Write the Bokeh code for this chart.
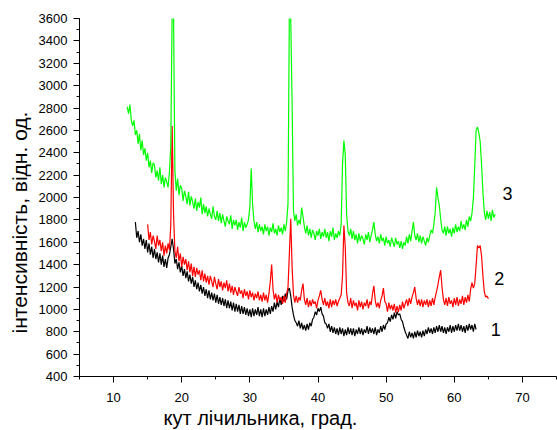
import numpy as np
from bokeh.plotting import figure
from bokeh.models import Range1d, SingleIntervalTicker, Label, ColumnDataSource, Title
from bokeh.embed import file_html
from bokeh.resources import INLINE

# ---- data ----
step = 0.2

green_x0 = 12.0
green_y = [
    2810, 2750, 2830, 2690, 2640,
    2690, 2560, 2600, 2480, 2570,
    2420, 2510, 2380, 2440, 2330,
    2400, 2270, 2330, 2220, 2310,
    2290, 2180, 2240, 2150, 2270,
    2120, 2200, 2090, 2180, 2140,
    2090, 2230, 2470, 3700, 3650,
    2240, 2060, 2170, 2020, 2110,
    2080, 1970, 2060, 2010, 1940,
    2050, 1930, 2010, 1960, 1900,
    1990, 1880, 1960, 1910, 2000,
    1850, 1940, 1860, 1920, 1830,
    1900, 1850, 1810, 1920, 1830,
    1800, 1880, 1790, 1860, 1770,
    1850, 1790, 1740, 1830, 1790,
    1760, 1840, 1720, 1800, 1750,
    1800, 1710, 1780, 1730, 1820,
    1700, 1780, 1730, 1760, 1800,
    1920, 2260, 1940, 1790, 1720,
    1780, 1690, 1760, 1700, 1740,
    1670, 1760, 1700, 1740, 1660,
    1730, 1690, 1770, 1680, 1720,
    1660, 1750, 1690, 1730, 1670,
    1760, 1700, 1780, 1950, 3700,
    3600, 2850, 1880, 1790, 1850,
    1750, 1800, 1760, 1910, 1830,
    1740, 1680, 1750, 1660, 1720,
    1640, 1710, 1680, 1620, 1700,
    1660, 1720, 1630, 1690, 1650,
    1720, 1640, 1690, 1610, 1700,
    1650, 1730, 1620, 1680, 1640,
    1700, 1660, 1760, 2300, 2510,
    2380, 1850, 1700, 1660, 1720,
    1630, 1700, 1620, 1670, 1590,
    1680, 1610, 1660, 1630, 1580,
    1670, 1620, 1690, 1600, 1660,
    1710, 1780, 1670, 1610, 1650,
    1590, 1670, 1610, 1640, 1570,
    1650, 1590, 1620, 1560, 1640,
    1600, 1560, 1640, 1580, 1610,
    1550, 1610, 1540, 1600, 1570,
    1650, 1590, 1670, 1610, 1700,
    1780, 1660, 1620, 1680, 1600,
    1660, 1590, 1650, 1610, 1570,
    1640, 1600, 1660, 1710, 1680,
    1760, 1870, 2090, 2000, 1930,
    1810, 1710, 1680, 1740, 1660,
    1740, 1680, 1720, 1650, 1730,
    1680, 1760, 1690, 1740, 1700,
    1790, 1720, 1760, 1710, 1800,
    1740, 1830, 1790, 1860, 1990,
    2280, 2600, 2630, 2580, 2500,
    2300, 2050, 1870, 1800, 1880,
    1810, 1870, 1790, 1890, 1820,
    1850,
]

red_x0 = 15.0
red_y = [
    1760, 1620, 1690, 1580, 1660,
    1610, 1540, 1660, 1570, 1620,
    1520, 1600, 1480, 1570, 1500,
    1590, 1530, 1760, 2640, 1850,
    1520, 1460, 1560, 1430, 1500,
    1380, 1470, 1400, 1450, 1350,
    1430, 1330, 1410, 1300, 1380,
    1290, 1370, 1310, 1350, 1260,
    1350, 1250, 1320, 1240, 1300,
    1220, 1300, 1250, 1200, 1290,
    1230, 1180, 1270, 1200, 1250,
    1170, 1240, 1190, 1260, 1160,
    1230, 1150, 1210, 1130, 1200,
    1160, 1120, 1200, 1140, 1170,
    1100, 1180, 1120, 1160, 1090,
    1170, 1110, 1150, 1080, 1140,
    1100, 1160, 1080, 1130, 1070,
    1150, 1080, 1130, 1060, 1140,
    1250, 1400, 1180, 1090, 1140,
    1060, 1130, 1080, 1110, 1050,
    1120, 1060, 1140, 1200, 1500,
    1810, 1380, 1130, 1060, 1120,
    1060, 1110, 1080, 1170, 1230,
    1090, 1040, 1100, 1020, 1080,
    1030, 1090, 1050, 1070, 1010,
    1080, 1120, 1170, 1090, 1040,
    1100, 1030, 1070, 1010, 1090,
    1020, 1080, 1040, 1090, 1030,
    1070, 1100, 1130, 1300, 1750,
    1560, 1150, 1060, 1030, 1100,
    1010, 1080, 1030, 1060, 990,
    1080, 1020, 1070, 1000, 1060,
    1030, 1090, 1010, 1070, 1040,
    1140, 1210, 1080, 1020, 1060,
    1010, 1080, 1120, 1190, 1070,
    1050, 980, 1060, 1000, 1040,
    990, 1050, 970, 1030, 975,
    1040, 990, 1070, 1010, 1050,
    1090, 1030, 1100, 1050, 1110,
    1150, 1200, 1100, 1040, 1090,
    1030, 1090, 1020, 1080, 1040,
    1090, 1020, 1080, 1030, 1100,
    1040, 1110, 1160, 1220, 1290,
    1350, 1200, 1090, 1040, 1100,
    1030, 1110, 1050, 1080, 1020,
    1100, 1040, 1110, 1030, 1090,
    1050, 1120, 1040, 1110, 1060,
    1130, 1070, 1180, 1240, 1190,
    1230, 1390, 1570, 1550, 1570,
    1480, 1300, 1160, 1110, 1120,
    1095,
]

black_x0 = 13.2
black_y = [
    1780, 1640, 1700, 1600,
    1670, 1570, 1630, 1540, 1620,
    1510, 1590, 1490, 1560, 1460,
    1540, 1450, 1510, 1420, 1500,
    1400, 1480, 1380, 1450, 1370,
    1460, 1490, 1560, 1630, 1540,
    1410, 1450, 1360, 1420, 1330,
    1390, 1300, 1360, 1280, 1340,
    1250, 1310, 1230, 1290, 1200,
    1260, 1180, 1240, 1160, 1220,
    1140, 1200, 1120, 1180, 1100,
    1170, 1090, 1150, 1080, 1140,
    1060, 1130, 1050, 1110, 1040,
    1100, 1030, 1090, 1010, 1080,
    1010, 1070, 990, 1060, 980,
    1050, 980, 1040, 960, 1030,
    960, 1020, 950, 1010, 940,
    1000, 930, 1010, 940, 1000,
    950, 1020, 940, 1000, 930,
    1010, 940, 1000, 950, 1020,
    960, 1030, 980, 1060, 1000,
    1070, 1020, 1100, 1040, 1120,
    1070, 1140, 1090, 1170, 1190,
    1120, 1020, 950, 900, 880,
    850, 900, 830, 880, 820,
    860, 810, 870, 820, 880,
    850, 910, 930, 980, 950,
    1010, 980, 1020, 960, 940,
    880, 870, 830, 870, 800,
    850, 790, 840, 780, 830,
    770, 840, 780, 830, 760,
    820, 770, 840, 780, 830,
    770, 830, 760, 820, 780,
    840, 780, 830, 770, 820,
    790, 850, 780, 840, 790,
    830, 780, 840, 770, 820,
    790, 850, 800, 860, 820,
    870, 880, 930, 890, 950,
    910, 970, 920, 980, 950,
    960, 910, 890, 840, 800,
    770, 740, 800, 750, 790,
    740, 800, 750, 810, 760,
    800, 750, 810, 760, 820,
    780, 840, 790, 830, 780,
    840, 790, 850, 800, 860,
    800, 850, 790, 840, 780,
    840, 800, 860, 790, 850,
    800, 860, 810, 870, 810,
    860, 800, 850, 790, 860,
    810, 870, 820, 860, 800,
    870, 820,
]

curve_labels = ["1", "2", "3"]
curve_colors = ["#000000", "#ff0000", "#00ff00"]

x_title = "кут лічильника, град."
y_title = "інтенсивність, відн. од."

FONT = "Liberation Sans"

p = figure(width=557, height=430, output_backend="svg", toolbar_location=None,
           x_range=Range1d(5, 75), y_range=Range1d(400, 3600),
           min_border_left=79, min_border_right=1, min_border_top=18,
           min_border_bottom=54)
p.outline_line_color = None
p.background_fill_color = "white"
p.border_fill_color = "white"
p.xgrid.visible = False
p.ygrid.visible = False

series = [(black_x0, black_y), (red_x0, red_y), (green_x0, green_y)]
for (x0, ys), col in zip(series, curve_colors):
    xs = x0 + step * np.arange(len(ys))
    src = ColumnDataSource(dict(x=xs, y=ys))
    p.line("x", "y", source=src, line_color=col, line_width=1.2)

p.xaxis.ticker = SingleIntervalTicker(interval=10, num_minor_ticks=2)
p.yaxis.ticker = SingleIntervalTicker(interval=200, num_minor_ticks=2)
for ax in (p.xaxis[0], p.yaxis[0]):
    ax.major_tick_in = 0
    ax.major_tick_out = 6
    ax.minor_tick_in = 0
    ax.minor_tick_out = 3
    ax.axis_line_color = "black"
    ax.major_tick_line_color = "black"
    ax.minor_tick_line_color = "black"
    ax.major_label_text_font = FONT
    ax.major_label_text_font_size = "13px"
    ax.major_label_text_color = "black"
p.xaxis.major_label_standoff = 10
p.yaxis.major_label_standoff = 6

# axis titles (placed off-centre as in the original)
p.add_layout(Title(text=x_title, align="left", offset=84, standoff=0,
                   text_font=FONT, text_font_size="20px",
                   text_font_style="normal", text_color="black"), "below")
p.add_layout(Title(text=y_title, align="left", offset=43, standoff=9,
                   text_font=FONT, text_font_size="21px",
                   text_font_style="normal", text_color="black"), "left")

label_pos = [(66.1, 820), (66.6, 1276), (67.8, 2036)]
for t, (lx, ly) in zip(curve_labels, label_pos):
    p.add_layout(Label(x=lx, y=ly, text=t, text_font=FONT, text_font_size="18px",
                       text_align="center", text_baseline="middle", text_color="black"))

open("out.html", "w").write(file_html(p, INLINE))
